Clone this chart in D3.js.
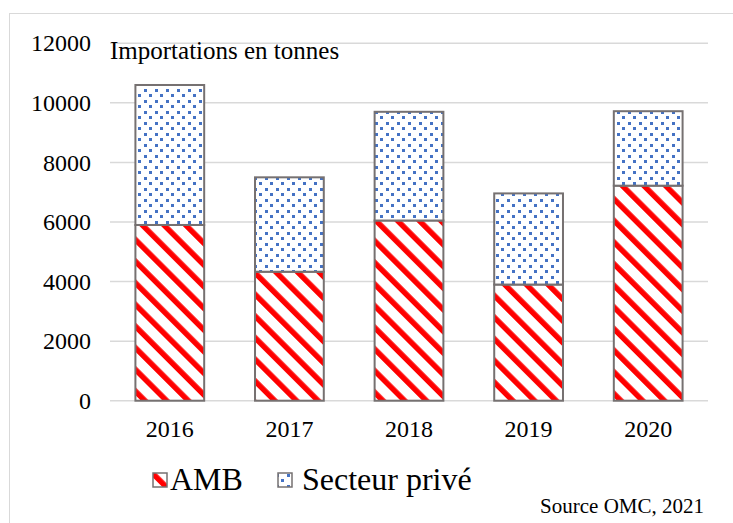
<!DOCTYPE html>
<html>
<head>
<meta charset="utf-8">
<script src="https://cdn.jsdelivr.net/npm/d3@7"></script>
<style>
  body { margin: 0; background: #fff; }
  svg text { font-family: "Liberation Serif", "Times New Roman", serif; fill: #000; }
</style>
</head>
<body>
<script>
'use strict';

// data (tonnes)
const years = ["2016", "2017", "2018", "2019", "2020"];
const amb = [5900, 4330, 6050, 3900, 7220];
const prive = [4700, 3170, 3650, 3060, 2500];
const yTicks = [0, 2000, 4000, 6000, 8000, 10000, 12000];
const seriesNames = ["AMB", "Secteur privé"];

const width = 733, height = 523;
const margin = { top: 43.3, right: 25, bottom: 122.3, left: 110 };
const serif = '"Liberation Serif", "Times New Roman", serif';

const svg = d3.select('body').append('svg')
  .attr('width', width)
  .attr('height', height);

// fill patterns
const defs = svg.append('defs');
const stripes = defs.append('pattern')
  .attr('id', 'stripes')
  .attr('patternUnits', 'userSpaceOnUse')
  .attr('width', 15.3).attr('height', 15.3)
  .attr('patternTransform', 'rotate(-45)');
stripes.append('rect').attr('width', 15.3).attr('height', 15.3).attr('fill', '#fff');
stripes.append('rect').attr('width', 5.5).attr('height', 15.3).attr('fill', '#ff0000');

const dots = defs.append('pattern')
  .attr('id', 'dots')
  .attr('patternUnits', 'userSpaceOnUse')
  .attr('width', 11).attr('height', 11);
dots.append('rect').attr('width', 11).attr('height', 11).attr('fill', '#fff');
dots.append('rect').attr('x', 1).attr('y', 1).attr('width', 3).attr('height', 3).attr('fill', '#4472c4');
dots.append('rect').attr('x', 6).attr('y', 6).attr('width', 3).attr('height', 3).attr('fill', '#4472c4');

const fills = ['url(#stripes)', 'url(#dots)'];

// outer frame
svg.append('rect')
  .attr('x', 9.5).attr('y', 13.5)
  .attr('width', width + 20).attr('height', height + 20)
  .attr('fill', 'none')
  .attr('stroke', '#d9d9d9')
  .attr('stroke-width', 1);

const x = d3.scaleBand()
  .domain(years)
  .range([margin.left, width - margin.right])
  .paddingInner(0.425)
  .paddingOuter(0.2125);

const y = d3.scaleLinear()
  .domain([0, 12000])
  .range([height - margin.bottom, margin.top]);

// gridlines
svg.append('g')
  .selectAll('line')
  .data(yTicks)
  .enter()
  .append('line')
  .attr('x1', margin.left)
  .attr('x2', width - margin.right)
  .attr('y1', d => y(d))
  .attr('y2', d => y(d))
  .attr('stroke', '#d9d9d9')
  .attr('stroke-width', 1.5);

// y axis labels
const yAxis = d3.axisLeft(y).tickValues(yTicks).tickFormat(d3.format('d')).tickSize(0).tickPadding(0);
const gy = svg.append('g')
  .attr('transform', `translate(${margin.left - 19}, 0)`)
  .call(yAxis);
gy.select('.domain').remove();
gy.selectAll('text')
  .style('font-family', serif)
  .style('font-size', '24px')
  .attr('fill', '#000');

// x axis labels
const xAxis = d3.axisBottom(x).tickSize(0).tickPadding(0);
const gx = svg.append('g')
  .attr('transform', `translate(0, ${height - margin.bottom})`)
  .call(xAxis);
gx.select('.domain').remove();
gx.selectAll('text')
  .attr('dy', null)
  .attr('y', 36)
  .style('font-family', serif)
  .style('font-size', '24px')
  .attr('fill', '#000');

// stacked bars
const table = years.map((yr, i) => ({ year: yr, AMB: amb[i], "Secteur privé": prive[i] }));
const stack = d3.stack().keys(seriesNames)(table);

svg.append('g')
  .selectAll('g')
  .data(stack)
  .enter()
  .append('g')
  .attr('fill', (d, i) => fills[i])
  .selectAll('rect')
  .data(d => d)
  .enter()
  .append('rect')
  .attr('x', d => x(d.data.year))
  .attr('y', d => y(d[1]))
  .attr('width', x.bandwidth())
  .attr('height', d => y(d[0]) - y(d[1]))
  .attr('stroke', '#767171')
  .attr('stroke-width', 2);

// chart title
svg.append('text')
  .attr('x', 110)
  .attr('y', 59)
  .style('font-family', serif)
  .style('font-size', '25px')
  .text('Importations en tonnes');

// legend
const legendPos = [{ sx: 153, tx: 170 }, { sx: 278, tx: 302 }];
const legend = svg.append('g');
seriesNames.forEach((name, i) => {
  legend.append('rect')
    .attr('x', legendPos[i].sx)
    .attr('y', 473)
    .attr('width', 14)
    .attr('height', 14)
    .attr('fill', fills[i])
    .attr('stroke', '#767171')
    .attr('stroke-width', 1.5);
  legend.append('text')
    .attr('x', legendPos[i].tx)
    .attr('y', 490)
    .style('font-family', serif)
    .style('font-size', '32px')
    .text(name);
});

// source
svg.append('text')
  .attr('x', 704)
  .attr('y', 513)
  .attr('text-anchor', 'end')
  .style('font-family', serif)
  .style('font-size', '21px')
  .text('Source OMC, 2021');
</script>
</body>
</html>
